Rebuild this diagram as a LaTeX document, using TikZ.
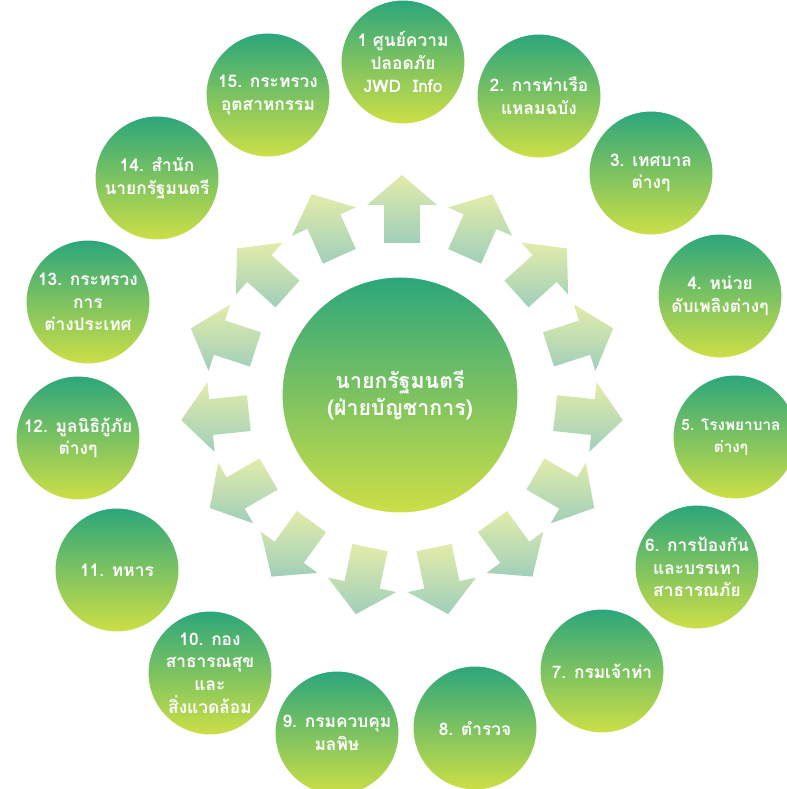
\documentclass[tikz,border=0pt]{standalone}
\usepackage{fontspec}
\newfontfamily\thai[Script=Thai]{Loma}
\usetikzlibrary{calc}
\definecolor{gtop}{RGB}{44,166,123}
\definecolor{gbot}{RGB}{205,223,70}
\definecolor{atop}{RGB}{226,236,170}
\definecolor{abot}{RGB}{160,207,186}
\begin{document}
\begin{tikzpicture}[x=0.75pt,y=0.75pt,
  bubble/.style={circle, minimum size=93pt, inner sep=0pt, top color=gtop, bottom color=gbot,
    draw=white, line width=0.75pt, text=white, align=center,
    font=\thai\bfseries\fontsize{13}{17}\selectfont},
  label text/.style={text=white, align=center, inner sep=0pt,
    font=\thai\bfseries\fontsize{11.5}{17}\selectfont},
  hub/.style={bubble, minimum size=177pt, font=\thai\bfseries\fontsize{16}{20}\selectfont},
  blockarrow/.style={top color=atop, bottom color=abot, draw=none}]
\useasboundingbox (0,0) rectangle (787,789);
\coordinate (O) at (402,392);
\foreach \k in {0,...,14} {
  \pgfmathsetmacro\a{90-24*\k}
  \shade[blockarrow] ($(O)+(\a:154)+(\a+90:18)$) -- ($(O)+(\a:192)+(\a+90:18)$)
    -- ($(O)+(\a:192)+(\a+90:35)$) -- ($(O)+(\a:222)$)
    -- ($(O)+(\a:192)+(\a-90:35)$) -- ($(O)+(\a:192)+(\a-90:18)$)
    -- ($(O)+(\a:154)+(\a-90:18)$) -- cycle;
}
\node[hub] (c) at (400,394) {นายกรัฐมนตรี\\(ฝ่ายบัญชาการ)};
\node[bubble] (n1) at (403,727) {1 ศูนย์ความ\\ปลอดภัย\\JWD\ \ Info};
\node[bubble] (n2) at (539,693) {2. การท่าเรือ\\แหลมฉบัง};
\node[bubble] (n3) at (651,616) {3. เทศบาล\\ต่างๆ};
\node[bubble] (n4) at (720,493) {4. หน่วย\\ดับเพลิงต่างๆ};
\node[bubble] (n5) at (735,352) {};
\node[label text] (t5) at (731,352) {5. โรงพยาบาล\\ต่างๆ};
\node[bubble] (n6) at (697,222) {6. การป้องกัน\\และบรรเทา\\สาธารณภัย};
\node[bubble] (n7) at (602,118) {7. กรมเจ้าท่า};
\node[bubble] (n8) at (475,61) {8. ตำรวจ};
\node[bubble] (n9) at (337,56) {9. กรมควบคุม\\มลพิษ};
\node[bubble] (n10) at (210,116) {10. กอง\\สาธารณสุข\\และ\\สิ่งแวดล้อม};
\node[bubble] (n11) at (117,219) {11. ทหาร};
\node[bubble] (n12) at (78,351) {12. มูลนิธิกู้ภัย\\ต่างๆ};
\node[bubble] (n13) at (88,487) {13. กระทรวง\\การ\\ต่างประเทศ};
\node[bubble] (n14) at (157,611) {14. สำนัก\\นายกรัฐมนตรี};
\node[bubble] (n15) at (268,694) {15. กระทรวง\\อุตสาหกรรม};
\end{tikzpicture}
\end{document}
